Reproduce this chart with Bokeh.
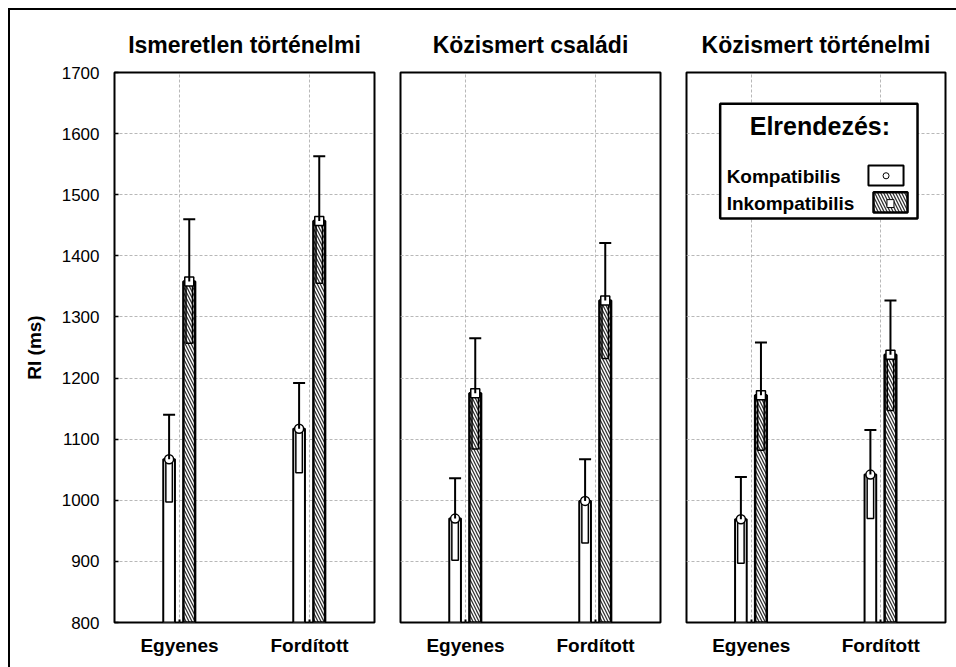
from bokeh.plotting import figure
from bokeh.layouts import row
from bokeh.models import (ColumnDataSource, Whisker, TeeHead, Label, BoxAnnotation,
                          SingleIntervalTicker, FactorRange, Range1d)
from bokeh.transform import dodge
from bokeh.embed import file_html
from bokeh.resources import INLINE

# ---------------- data ----------------
panels = ["Ismeretlen történelmi", "Közismert családi", "Közismert történelmi"]
categories = ["Egyenes", "Fordított"]
series = ["Kompatibilis", "Inkompatibilis"]

komp_mean = [[1067, 1117], [970, 999], [969, 1042]]
komp_inner = [[997, 1045], [902, 930], [897, 970]]
komp_upper = [[1140, 1192], [1036, 1067], [1038, 1115]]

inkomp_mean = [[1358, 1457], [1175, 1327], [1172, 1238]]
inkomp_inner = [[1257, 1355], [1084, 1232], [1082, 1147]]
inkomp_upper = [[1460, 1563], [1265, 1421], [1258, 1327]]

y_ticks = [800, 900, 1000, 1100, 1200, 1300, 1400, 1500, 1600, 1700]
y_label = "RI (ms)"
legend_title = "Elrendezés:"

FONT = "Liberation Sans"
y_min, y_max = y_ticks[0], y_ticks[-1]

OFF_K, OFF_I = -0.08, 0.075
BAR_W = 0.09
INNER_W = 0.05
HATCH = dict(hatch_pattern="left_diagonal_line", hatch_color="#333333",
             hatch_scale=6, hatch_weight=1.3)

H = 657


def make_panel(i, width, left_border, right_border, show_y):
    p = figure(x_range=FactorRange(*categories, range_padding=0),
               y_range=Range1d(y_min, y_max),
               width=width, height=H, output_backend="svg", toolbar_location=None,
               min_border_left=left_border, min_border_right=right_border,
               min_border_top=62, min_border_bottom=H - 62 - 550)
    p.title.text = panels[i]
    p.title.align = "center"
    p.title.text_font = FONT
    p.title.text_font_size = "23px"
    p.title.text_font_style = "bold"
    p.title.text_color = "black"
    p.title.standoff = 29

    p.outline_line_color = "black"
    p.outline_line_width = 2
    p.outline_line_alpha = 1

    for g in (p.xgrid, p.ygrid):
        g.grid_line_color = "#b8b8b8"
        g.grid_line_dash = "3 2"
        g.grid_line_width = 1
    p.ygrid.ticker = SingleIntervalTicker(interval=100)

    xa = p.xaxis[0]
    xa.axis_line_color = None
    xa.major_tick_in = 3
    xa.major_tick_out = 0
    xa.major_tick_line_width = 2
    xa.major_tick_line_color = "black"
    xa.major_label_text_font = FONT
    xa.major_label_text_font_size = "19px"
    xa.major_label_text_font_style = "bold"
    xa.major_label_text_color = "black"
    xa.major_label_standoff = 12

    ya = p.yaxis[0]
    if show_y:
        ya.ticker = SingleIntervalTicker(interval=100)
        ya.axis_line_color = None
        ya.major_tick_in = 4
        ya.major_tick_out = 0
        ya.minor_tick_line_color = None
        ya.major_tick_line_width = 1.5
        ya.major_tick_line_color = "black"
        ya.major_label_text_font = FONT
        ya.major_label_text_font_size = "17px"
        ya.major_label_text_color = "black"
        ya.major_label_standoff = 11
        ya.axis_label = y_label
        ya.axis_label_text_font = FONT
        ya.axis_label_text_font_size = "19px"
        ya.axis_label_text_font_style = "bold"
        ya.axis_label_text_color = "black"
        ya.axis_label_standoff = 14
    else:
        ya.visible = False

    src = ColumnDataSource(dict(
        cat=categories,
        km=komp_mean[i], ki=komp_inner[i], ku=komp_upper[i],
        im=inkomp_mean[i], ii=inkomp_inner[i], iu=inkomp_upper[i],
        base=[y_min] * len(categories),
    ))
    xk = dodge("cat", OFF_K, range=p.x_range)
    xi = dodge("cat", OFF_I, range=p.x_range)

    # Kompatibilis bars
    p.vbar(x=xk, top="km", bottom="base", width=BAR_W, source=src,
           fill_color="white", line_color="black", line_width=2)
    p.vbar(x=xk, top="km", bottom="ki", width=INNER_W, source=src,
           fill_color="white", line_color="black", line_width=1.5)
    # Inkompatibilis bars (hatched)
    p.vbar(x=xi, top="im", bottom="base", width=BAR_W, source=src,
           fill_color="white", line_color="black", line_width=2.5, **HATCH)
    p.vbar(x=xi, top="im", bottom="ii", width=INNER_W, source=src,
           fill_alpha=0, line_color="black", line_width=1.5)

    # whiskers
    for xs, lo, up in ((xk, "km", "ku"), (xi, "im", "iu")):
        p.add_layout(Whisker(source=src, base=xs, lower=lo, upper=up,
                             dimension="height", line_color="black", line_width=2,
                             upper_head=TeeHead(size=12, line_color="black", line_width=2),
                             lower_head=None, level="glyph"))

    # mean markers
    p.scatter(x=xk, y="km", source=src, marker="circle", size=9,
              fill_color="white", line_color="black", line_width=1.5)
    p.scatter(x=xi, y="im", source=src, marker="square", size=9,
              fill_color="white", line_color="black", line_width=1.5)
    return p


f1 = make_panel(0, 377, 104, 13, True)
f2 = make_panel(1, 286, 13, 13, False)
f3 = make_panel(2, 283, 13, 11, False)

# ---------------- legend (drawn in panel 3) ----------------
f3.add_layout(BoxAnnotation(left=0.26, right=1.784, top=1649, bottom=1461,
                            fill_color="white", fill_alpha=1, line_color="black",
                            line_width=2.5, line_alpha=1, level="overlay"))
f3.add_layout(Label(x=1.03, y=1613, text=legend_title, text_align="center",
                    text_baseline="middle", text_font=FONT, text_font_size="25px",
                    text_font_style="bold", text_color="black", level="overlay"))
f3.add_layout(Label(x=0.31, y=1530, text=series[0], text_align="left",
                    text_baseline="middle", text_font=FONT, text_font_size="19px",
                    text_font_style="bold", text_color="black", level="overlay"))
f3.add_layout(Label(x=0.31, y=1486, text=series[1], text_align="left",
                    text_baseline="middle", text_font=FONT, text_font_size="19px",
                    text_font_style="bold", text_color="black", level="overlay"))
# swatch: Kompatibilis
f3.add_layout(BoxAnnotation(left=1.405, right=1.676, top=1548, bottom=1515,
                            fill_color="white", fill_alpha=1, line_color="black",
                            line_width=2, line_alpha=1, level="overlay"))
f3.add_layout(BoxAnnotation(left=1.518, right=1.564, top=1536, bottom=1526,
                            fill_color="white", fill_alpha=1, line_color="black",
                            line_width=1, line_alpha=1, border_radius=4, level="overlay"))
# swatch: Inkompatibilis
f3.add_layout(BoxAnnotation(left=1.444, right=1.707, top=1504, bottom=1471,
                            fill_color="white", fill_alpha=1, line_color="black",
                            line_width=2.5, line_alpha=1, level="overlay", **HATCH))
f3.add_layout(BoxAnnotation(left=1.548, right=1.602, top=1492, bottom=1479,
                            fill_color="white", fill_alpha=1, line_color="black",
                            line_width=1, line_alpha=1, level="overlay"))

layout = row(f1, f2, f3, styles={"margin-left": "8px", "margin-top": "8px",
                                 "border-left": "2px solid black",
                                 "border-top": "2px solid black"})

open("out.html", "w").write(file_html(layout, INLINE))
